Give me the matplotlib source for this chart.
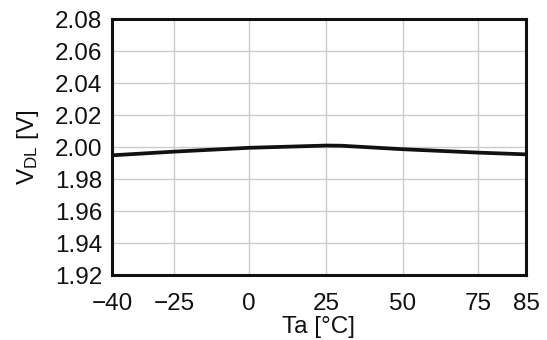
import matplotlib
matplotlib.use('Agg')
import matplotlib.pyplot as plt
import numpy as np

plt.rcParams['font.family'] = ['Liberation Sans', 'DejaVu Sans']
plt.rcParams['mathtext.fontset'] = 'custom'
plt.rcParams['mathtext.rm'] = 'Liberation Sans'
plt.rcParams['mathtext.it'] = 'Liberation Sans:italic'

# data
temps = [-40, -25, 0, 25, 30, 50, 75, 85]
vdl = [1.9948, 1.9971, 1.9995, 2.0009, 2.0008, 1.9986, 1.9965, 1.9954]

x_ticks = [-40, -25, 0, 25, 50, 75, 85]
y_ticks = [1.92, 1.94, 1.96, 1.98, 2.00, 2.02, 2.04, 2.06, 2.08]

# the x axis of the original is not linear: tick spacing
scale_pos = [0, 62, 137, 214, 291, 366, 414]


def fwd(t):
    return np.interp(t, x_ticks, scale_pos, left=-1e3, right=1e3)


def inv(p):
    return np.interp(p, scale_pos, x_ticks)


fig = plt.figure(figsize=(5.47, 3.4), dpi=100)
ax = fig.add_axes([112 / 547, 1 - 275 / 340, 414 / 547, 256 / 340])
ax.set_xscale('function', functions=(fwd, inv))

ax.plot(temps, vdl, color='#111111', lw=2.7, solid_capstyle='butt')

ax.set_xlim(-40, 85)
ax.set_ylim(1.92, 2.08)
ax.set_xticks(x_ticks)
ax.set_xticklabels([f'{t:d}'.replace('-', '\u2212') for t in x_ticks])
ax.set_yticks(y_ticks)
ax.set_yticklabels([f'{v:.2f}' for v in y_ticks])
ax.minorticks_off()

ax.grid(True, color='#cccccc', lw=1.0)
ax.set_axisbelow(True)
for s in ax.spines.values():
    s.set_linewidth(2.2)
    s.set_color('#111111')

ax.tick_params(length=0, labelsize=17.5, colors='#111111')
ax.tick_params(axis='x', pad=13)
ax.tick_params(axis='y', pad=7)

ax.set_xlabel('Ta [°C]', fontsize=17.5, labelpad=1, color='#111111')
ax.set_ylabel(r'V$_{\mathrm{DL}}$ [V]', fontsize=17.5, labelpad=10, color='#111111')

fig.savefig('out.png', dpi=100)
